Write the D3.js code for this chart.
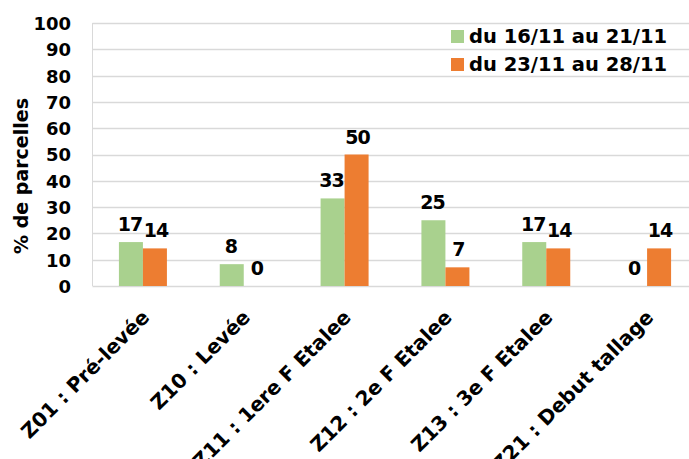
<!DOCTYPE html>
<html>
<head>
<meta charset="utf-8">
<script src="https://cdn.jsdelivr.net/npm/d3@7"></script>
<style>
  body { margin: 0; background: #fff; }
  text { font-family: "DejaVu Sans", sans-serif; fill: #000; }
</style>
</head>
<body>
<svg id="canvas" width="689" height="459"></svg>
<script>
'use strict';

// categories and series
var categories = ['Z01 : Pré-levée', 'Z10 : Levée', 'Z11 : 1ere F Etalee',
                  'Z12 : 2e F Etalee', 'Z13 : 3e F Etalee', 'Z21 : Debut tallage'];
var seriesNames = ['du 16/11 au 21/11', 'du 23/11 au 28/11'];
var week1 = [16.7, 8.3, 33.3, 25, 16.7, 0];
var week2 = [14.3, 0, 50, 7.1, 14.3, 14.3];
var yTicks = [0, 10, 20, 30, 40, 50, 60, 70, 80, 90, 100];
var colors = ['#a9d18e', '#ed7d31'];

var margin = {top: 23, left: 92.5, bottom: 286, right: 697.5};

var svg = d3.select('svg#canvas');

var x = d3.scaleBand()
  .domain(categories)
  .range([margin.left, margin.right]);

var x1 = d3.scaleBand()
  .domain(seriesNames)
  .range([0, 48])
  ;

var y = d3.scaleLinear()
  .domain([0, 100])
  .range([margin.bottom, margin.top]);

/* gridlines */
svg.append('g')
  .selectAll('line')
  .data(yTicks)
  .join('line')
    .attr('x1', margin.left)
    .attr('x2', 689)
    .attr('y1', function(d){ return Math.round(y(d)) + 0.5; })
    .attr('y2', function(d){ return Math.round(y(d)) + 0.5; })
    .attr('stroke', '#d9d9d9')
    .attr('stroke-width', 1.3);

svg.append('line')
  .attr('x1', margin.left).attr('x2', margin.left)
  .attr('y1', y(100)).attr('y2', y(0))
  .attr('stroke', '#d9d9d9')
  .attr('stroke-width', 1);

/* y axis labels */
var yAxis = d3.axisLeft(y).tickValues(yTicks).tickSize(0).tickPadding(0);
var gy = svg.append('g')
  .attr('transform', 'translate(71,0)')
  .call(yAxis);
gy.select('.domain').remove();
gy.selectAll('text')
  .attr('dy', '0.36em')
  .style('font-size', '18px')
  .style('font-weight', 'bold')
  .style('font-family', '"DejaVu Sans", sans-serif')
  .attr('fill', '#000');

/* y title */
svg.append('text')
  .attr('transform', 'translate(28,176) rotate(-90)')
  .attr('text-anchor', 'middle')
  .style('font-size', '19px')
  .style('font-weight', 'bold')
  .text('% de parcelles');

/* bars */
var rows = categories.map(function(c, i){
  return [{cat: c, s: seriesNames[0], v: week1[i], k: 0},
          {cat: c, s: seriesNames[1], v: week2[i], k: 1}];
}).flat();

var bars = svg.append('g');
bars.selectAll('rect')
  .data(rows)
  .join('rect')
    .attr('x', function(d){ return x(d.cat) + x.bandwidth()/2 - 24 + x1(d.s); })
    .attr('width', x1.bandwidth())
    .attr('y', function(d){ return y(d.v); })
    .attr('height', function(d){ return y(0) - y(d.v); })
    .attr('fill', function(d){ return colors[d.k]; });

/* value labels */
bars.selectAll('text')
  .data(rows)
  .join('text')
    .attr('x', function(d){
      // nudge the pair apart a little, as the source does
      return x(d.cat) + x.bandwidth()/2 - 24 + x1(d.s) + x1.bandwidth()/2 + (d.k ? 1 : -1);
    })
    .attr('y', function(d){ return y(d.v) - 11; })
    .attr('text-anchor', 'middle')
    .style('font-size', '19px')
    .style('font-weight', 'bold')
    .style('letter-spacing', '-1px')
    .text(function(d){ return Math.round(d.v); });

/* x axis labels */
svg.append('g')
  .selectAll('text')
  .data(categories)
  .join('text')
    .attr('transform', function(d){
      return 'translate(' + (x(d) + x.bandwidth()/2 - 3) + ',308) rotate(-45)';
    })
    .attr('text-anchor', 'end')
    .attr('dy', '0.75em')
    .style('font-size', '20px')
    .style('font-weight', 'bold')
    .text(function(d){ return d; });

/* legend */
var legend = svg.append('g')
  .selectAll('g')
  .data(seriesNames)
  .join('g')
    .attr('transform', function(d, i){ return 'translate(451,' + (30 + i*28) + ')'; });
legend.append('rect')
  .attr('width', 13).attr('height', 13)
  .attr('fill', function(d, i){ return colors[i]; });
legend.append('text')
  .attr('x', 18)
  .attr('y', 13)
  .style('font-size', '19.5px')
  .style('font-weight', 'bold')
  .text(function(d){ return d; });
</script>
</body>
</html>
